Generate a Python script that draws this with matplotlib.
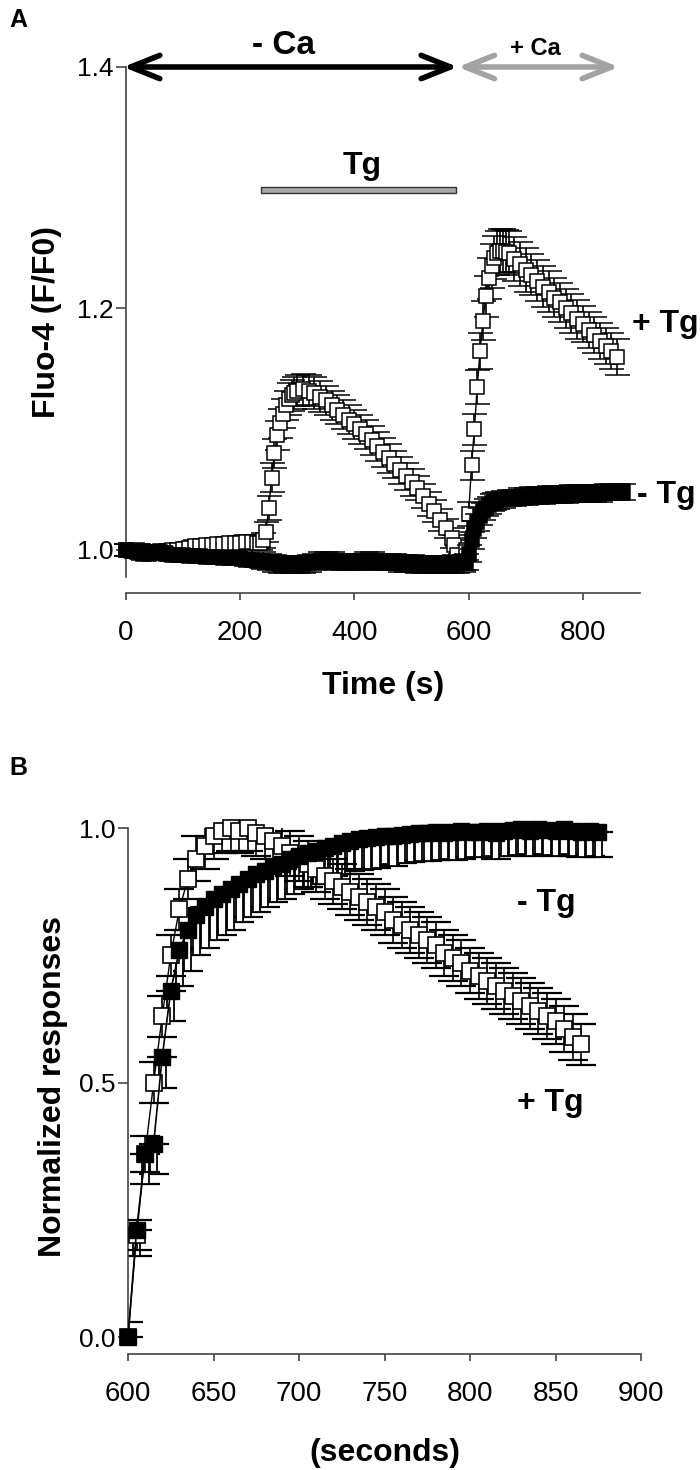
import matplotlib
matplotlib.use("Agg")
import matplotlib.pyplot as plt
import numpy as np

plt.rcParams['font.family'] = ['Liberation Sans', 'DejaVu Sans']

# ---------------- Panel A data ----------------
tA_pos = [0, 10, 20, 30, 40, 50, 60, 70, 80, 90, 100, 110, 120, 130, 140, 150, 160, 170, 180, 190,
          200, 210, 220, 230,
          235, 240, 245, 250, 255, 260, 265, 270, 275, 280, 285, 290, 295, 300,
          310, 320, 330, 340, 350, 360, 370, 380, 390, 400, 410, 420, 430, 440, 450, 460, 470, 480,
          490, 500, 510, 520, 530, 540, 550, 560, 570,
          575, 580, 585, 590, 595,
          600, 605, 610, 615, 620, 625, 630, 635, 640, 645, 650, 655, 660, 665, 670,
          680, 690, 700, 710, 720, 730, 740, 750, 760, 770, 780, 790, 800, 810, 820, 830, 840, 850, 860]
yA_pos = [1.000, 0.999, 1.000, 0.999, 0.998, 0.998, 0.999, 0.999, 1.000, 1.000, 1.001, 1.002, 1.003,
          1.003, 1.004, 1.004, 1.005, 1.005, 1.006, 1.006, 1.006, 1.007, 1.007, 1.006,
          1.006, 1.008, 1.015, 1.035, 1.060, 1.080, 1.095, 1.105, 1.113, 1.120, 1.125, 1.128, 1.130, 1.132,
          1.133, 1.132, 1.130, 1.127, 1.124, 1.120, 1.116, 1.112, 1.108, 1.104,
          1.100, 1.096, 1.091, 1.086, 1.081, 1.076, 1.071, 1.066, 1.061, 1.056,
          1.051, 1.045, 1.038, 1.032, 1.025, 1.018, 1.010,
          1.004, 0.996, 0.990, 0.990, 1.000,
          1.030, 1.070, 1.100, 1.135, 1.165, 1.190, 1.210, 1.225, 1.235, 1.242, 1.246, 1.248, 1.248, 1.247, 1.246,
          1.241, 1.237, 1.232, 1.228, 1.223, 1.218, 1.214, 1.209, 1.205, 1.200, 1.196, 1.191, 1.187, 1.182,
          1.178, 1.173, 1.169, 1.165, 1.160]
eA_pos = [0.005] * 24 + \
         [0.006, 0.006, 0.008, 0.010, 0.012, 0.012, 0.012, 0.012, 0.012, 0.012, 0.013, 0.013, 0.013, 0.013] + \
         [0.013, 0.013, 0.013, 0.013, 0.012, 0.012, 0.012, 0.012, 0.012, 0.012,
          0.012, 0.012, 0.012, 0.012, 0.012, 0.012, 0.011, 0.011, 0.011, 0.011,
          0.010, 0.010, 0.010, 0.009, 0.009, 0.008, 0.008] + \
         [0.008, 0.007, 0.007, 0.007, 0.008] + \
         [0.010, 0.012, 0.013, 0.014, 0.015, 0.016, 0.017, 0.017, 0.018, 0.018, 0.018, 0.018, 0.018, 0.018, 0.018] + \
         [0.018, 0.018, 0.018, 0.017, 0.017, 0.017, 0.017, 0.016, 0.016, 0.016, 0.016, 0.016, 0.015, 0.015,
          0.015, 0.015, 0.015, 0.015, 0.015]

tA_neg = [0, 10, 20, 30, 40, 50, 60, 70, 80, 90, 100, 110, 120, 130, 140, 150, 160, 170, 180, 190,
          200, 210, 220, 230, 240, 250, 260, 270, 280, 290, 300, 310, 320, 330, 340, 350, 360, 370, 380, 390,
          400, 410, 420, 430, 440, 450, 460, 470, 480, 490, 500, 510, 520, 530, 540, 550, 560, 570, 580, 590,
          595, 600, 605, 610, 615, 620, 625, 630, 635, 640, 645, 650,
          660, 670, 680, 690, 700, 710, 720, 730, 740, 750, 760, 770, 780, 790, 800, 810, 820, 830, 840, 850,
          860, 870]
yA_neg = [1.000, 0.999, 0.998, 0.997, 0.997, 0.998, 0.998, 0.997, 0.996, 0.996,
          0.996, 0.995, 0.995, 0.995, 0.994, 0.994, 0.994, 0.993, 0.993, 0.993,
          0.993, 0.992, 0.992, 0.991, 0.991, 0.990, 0.989, 0.988, 0.988, 0.988,
          0.988, 0.988, 0.989, 0.990, 0.991, 0.991, 0.991, 0.990, 0.990, 0.990,
          0.990, 0.990, 0.991, 0.991, 0.990, 0.990, 0.990, 0.990, 0.989, 0.989,
          0.989, 0.988, 0.988, 0.988, 0.988, 0.988, 0.988, 0.988, 0.988, 0.989,
          0.990, 0.997, 1.008, 1.017, 1.023, 1.028, 1.032, 1.035, 1.037, 1.039, 1.040, 1.041,
          1.042, 1.043, 1.043, 1.044, 1.044, 1.045, 1.045, 1.045, 1.046, 1.046, 1.046, 1.046,
          1.047, 1.047, 1.047, 1.047, 1.047, 1.047, 1.048, 1.048, 1.048, 1.048]
eA_neg = [0.005] * 24 + [0.007] * 36 + [0.007] * 12 + [0.007] * 22

# ---------------- Panel B data ----------------
tB_neg = [600, 605, 610, 615, 620, 625, 630, 635, 640, 645, 650, 655, 660, 665, 670, 675, 680, 685,
          690, 695, 700, 705, 710, 715, 720, 725, 730, 735, 740, 745, 750, 755, 760, 765, 770, 775,
          780, 785, 790, 795, 800, 805, 810, 815, 820, 825, 830, 835, 840, 845, 850, 855, 860, 865,
          870, 875]
yB_neg = [0.00, 0.21, 0.36, 0.38, 0.55, 0.68, 0.76, 0.80, 0.83, 0.845, 0.86, 0.87, 0.88, 0.89,
          0.90, 0.91, 0.915, 0.925, 0.93, 0.94, 0.945, 0.95, 0.955, 0.96, 0.965, 0.97, 0.975, 0.978,
          0.98, 0.982, 0.985, 0.985, 0.987, 0.988, 0.99, 0.99, 0.992, 0.99, 0.993, 0.995, 0.993,
          0.993, 0.995, 0.99, 0.995, 0.997, 0.998, 0.995, 0.998, 0.997, 0.995, 0.998, 0.995, 0.993,
          0.995, 0.993]
eB_neg = [0.03, 0.05, 0.06, 0.06, 0.06, 0.06, 0.07, 0.08, 0.08, 0.08, 0.08, 0.08, 0.08, 0.075,
          0.075, 0.075, 0.07, 0.07, 0.07, 0.07, 0.065, 0.065, 0.065, 0.06, 0.06, 0.06, 0.06, 0.06,
          0.06, 0.06, 0.055, 0.06, 0.055, 0.055, 0.055, 0.055, 0.055, 0.05, 0.055, 0.055, 0.05,
          0.05, 0.05, 0.05, 0.05, 0.05, 0.05, 0.05, 0.05, 0.05, 0.05, 0.05, 0.05, 0.05, 0.05, 0.05]

tB_pos = [600, 605, 610, 615, 620, 625, 630, 635, 640, 645, 650, 655, 660, 665, 670, 675, 680, 685,
          690, 695, 700, 705, 710, 715, 720, 725, 730, 735, 740, 745, 750, 755, 760, 765, 770, 775,
          780, 785, 790, 795, 800, 805, 810, 815, 820, 825, 830, 835, 840, 845, 850, 855, 860, 865]
yB_pos = [0.00, 0.20, 0.36, 0.50, 0.63, 0.75, 0.84, 0.90, 0.94, 0.965, 0.985, 0.995, 1.00, 0.995,
          1.00, 0.99, 0.985, 0.975, 0.965, 0.95, 0.94, 0.93, 0.92, 0.905, 0.895, 0.885, 0.875, 0.865,
          0.855, 0.845, 0.835, 0.82, 0.81, 0.80, 0.79, 0.78, 0.77, 0.755, 0.745, 0.735, 0.72, 0.71,
          0.70, 0.69, 0.68, 0.67, 0.66, 0.65, 0.64, 0.63, 0.62, 0.605, 0.59, 0.575]
eB_pos = [0.03, 0.03, 0.035, 0.04, 0.04, 0.04, 0.04, 0.04, 0.045, 0.045, 0.045, 0.045, 0.045, 0.045,
          0.045, 0.045, 0.045, 0.045, 0.045, 0.045, 0.045, 0.045, 0.045, 0.045, 0.045, 0.045, 0.045,
          0.045, 0.045, 0.045, 0.045, 0.045, 0.045, 0.045, 0.045, 0.045, 0.045, 0.045, 0.045, 0.045,
          0.045, 0.045, 0.045, 0.045, 0.045, 0.045, 0.045, 0.045, 0.045, 0.045, 0.045, 0.045, 0.045, 0.04]

# ---------------- figure ----------------
fig = plt.figure(figsize=(7, 14.7), dpi=100)
spine_c = '#444444'
lab_fs = 23
txt_fs = 23

def style_axes(ax, outward):
    for s in ['top', 'right']:
        ax.spines[s].set_visible(False)
    for s in ['left', 'bottom']:
        ax.spines[s].set_color(spine_c)
        ax.spines[s].set_linewidth(1.2)
    ax.spines['bottom'].set_position(('outward', outward))
    ax.tick_params(axis='x', direction='out', length=5, width=1.2, color=spine_c,
                   labelsize=20, pad=14.5)
    ax.tick_params(axis='y', direction='out', length=7, width=1.2, color=spine_c,
                   labelsize=19, pad=2)

# Panel A : 1.4 at y=67 px, 1.0 at y=550 px
axA = fig.add_axes([126 / 700, 1 - 577 / 1470, 514 / 700, (577 - 67) / 1470])
style_axes(axA, 11.5)
axA.set_xlim(0, 900)
axA.set_ylim(0.9776, 1.4)
axA.set_xticks([0, 200, 400, 600, 800])
axA.set_yticks([1.0, 1.2, 1.4])
axA.set_yticklabels(['1.0', '1.2', '1.4'])

axA.errorbar(tA_pos, yA_pos, yerr=eA_pos, fmt='-s', color='black', lw=1, ms=9.5,
             mfc='white', mec='black', mew=1.1, ecolor='black', elinewidth=1.2,
             capsize=9, capthick=1.5, zorder=3, clip_on=False)
axA.errorbar(tA_neg, yA_neg, yerr=eA_neg, fmt='-s', color='black', lw=1, ms=9.5,
             mfc='black', mec='black', mew=1.1, ecolor='black', elinewidth=1.2,
             capsize=9, capthick=1.5, zorder=4, clip_on=False)

axA.set_xlabel('Time (s)', fontsize=lab_fs, fontweight='bold', labelpad=18)
axA.set_ylabel('Fluo-4 (F/F0)', fontsize=lab_fs, fontweight='bold', labelpad=11)

# arrows
astyle = '<->,head_length=1.05,head_width=0.42'
axA.annotate('', xy=(-5, 1.4), xytext=(581, 1.4), annotation_clip=False,
             arrowprops=dict(arrowstyle=astyle, lw=4, color='black',
                             shrinkA=0, shrinkB=0, mutation_scale=20))
axA.annotate('', xy=(581, 1.4), xytext=(863, 1.4), annotation_clip=False,
             arrowprops=dict(arrowstyle=astyle, lw=4, color='#a3a3a3',
                             shrinkA=0, shrinkB=0, mutation_scale=20))
axA.text(275, 1.418, '- Ca', fontsize=24, fontweight='bold', ha='center', va='center')
axA.text(716, 1.4157, '+ Ca', fontsize=17, fontweight='bold', ha='center', va='center')

# Tg bar
axA.add_patch(plt.Rectangle((236, 1.2957), 578 - 236, 0.0049, facecolor='#a8a8a8',
                            edgecolor='#333333', lw=1, clip_on=False))
axA.text(413, 1.318, 'Tg', fontsize=txt_fs, fontweight='bold', ha='center', va='center')

axA.text(886, 1.187, '+ Tg', fontsize=txt_fs, fontweight='bold', ha='left', va='center', clip_on=False)
axA.text(895, 1.0455, '- Tg', fontsize=txt_fs, fontweight='bold', ha='left', va='center', clip_on=False)

fig.text(9 / 700, 1 - 20 / 1470, 'A', fontsize=18, fontweight='bold', ha='left', va='center')

# Panel B : 1.0 at y=828 px, 0.0 at y=1337 px
axB = fig.add_axes([128 / 700, 1 - 1345 / 1470, 513 / 700, (1345 - 828) / 1470])
style_axes(axB, 6.5)
axB.set_xlim(600, 900)
axB.set_ylim(-0.0157, 1.0)
axB.set_xticks([600, 650, 700, 750, 800, 850, 900])
axB.set_yticks([0.0, 0.5, 1.0])
axB.set_yticklabels(['0.0', '0.5', '1.0'])

# -Tg lower error bars drawn as white boxes with caps
zeros = [0.0] * len(eB_neg)
axB.errorbar(tB_neg, yB_neg, yerr=[eB_neg, zeros], fmt='none', ecolor='black', elinewidth=1.2,
             capsize=11, capthick=1.6, zorder=2)
bottoms = [y - e for y, e in zip(yB_neg, eB_neg)]
axB.bar(tB_neg, eB_neg, bottom=bottoms, width=4.2, facecolor='white', edgecolor='black',
        linewidth=1.3, zorder=2.1)

axB.errorbar(tB_pos, yB_pos, yerr=eB_pos, fmt='none', ecolor='black', elinewidth=1.2,
             capsize=11, capthick=1.6, zorder=3)
axB.plot(tB_pos, yB_pos, '-s', color='black', lw=1, ms=11, mfc='white', mec='black', mew=1.2,
         zorder=3.1, clip_on=False)
axB.plot(tB_neg, yB_neg, '-s', color='black', lw=1.2, ms=11, mfc='black', mec='black',
         zorder=4, clip_on=False)

axB.set_xlabel('(seconds)', fontsize=lab_fs, fontweight='bold', labelpad=22)
axB.set_ylabel('Normalized responses', fontsize=lab_fs, fontweight='bold', labelpad=8)

axB.text(827.5, 0.853, '- Tg', fontsize=txt_fs, fontweight='bold', ha='left', va='center')
axB.text(827.5, 0.46, '+ Tg', fontsize=txt_fs, fontweight='bold', ha='left', va='center')

fig.text(9 / 700, 1 - 768 / 1470, 'B', fontsize=18, fontweight='bold', ha='left', va='center')

fig.savefig('out.png', dpi=100)
